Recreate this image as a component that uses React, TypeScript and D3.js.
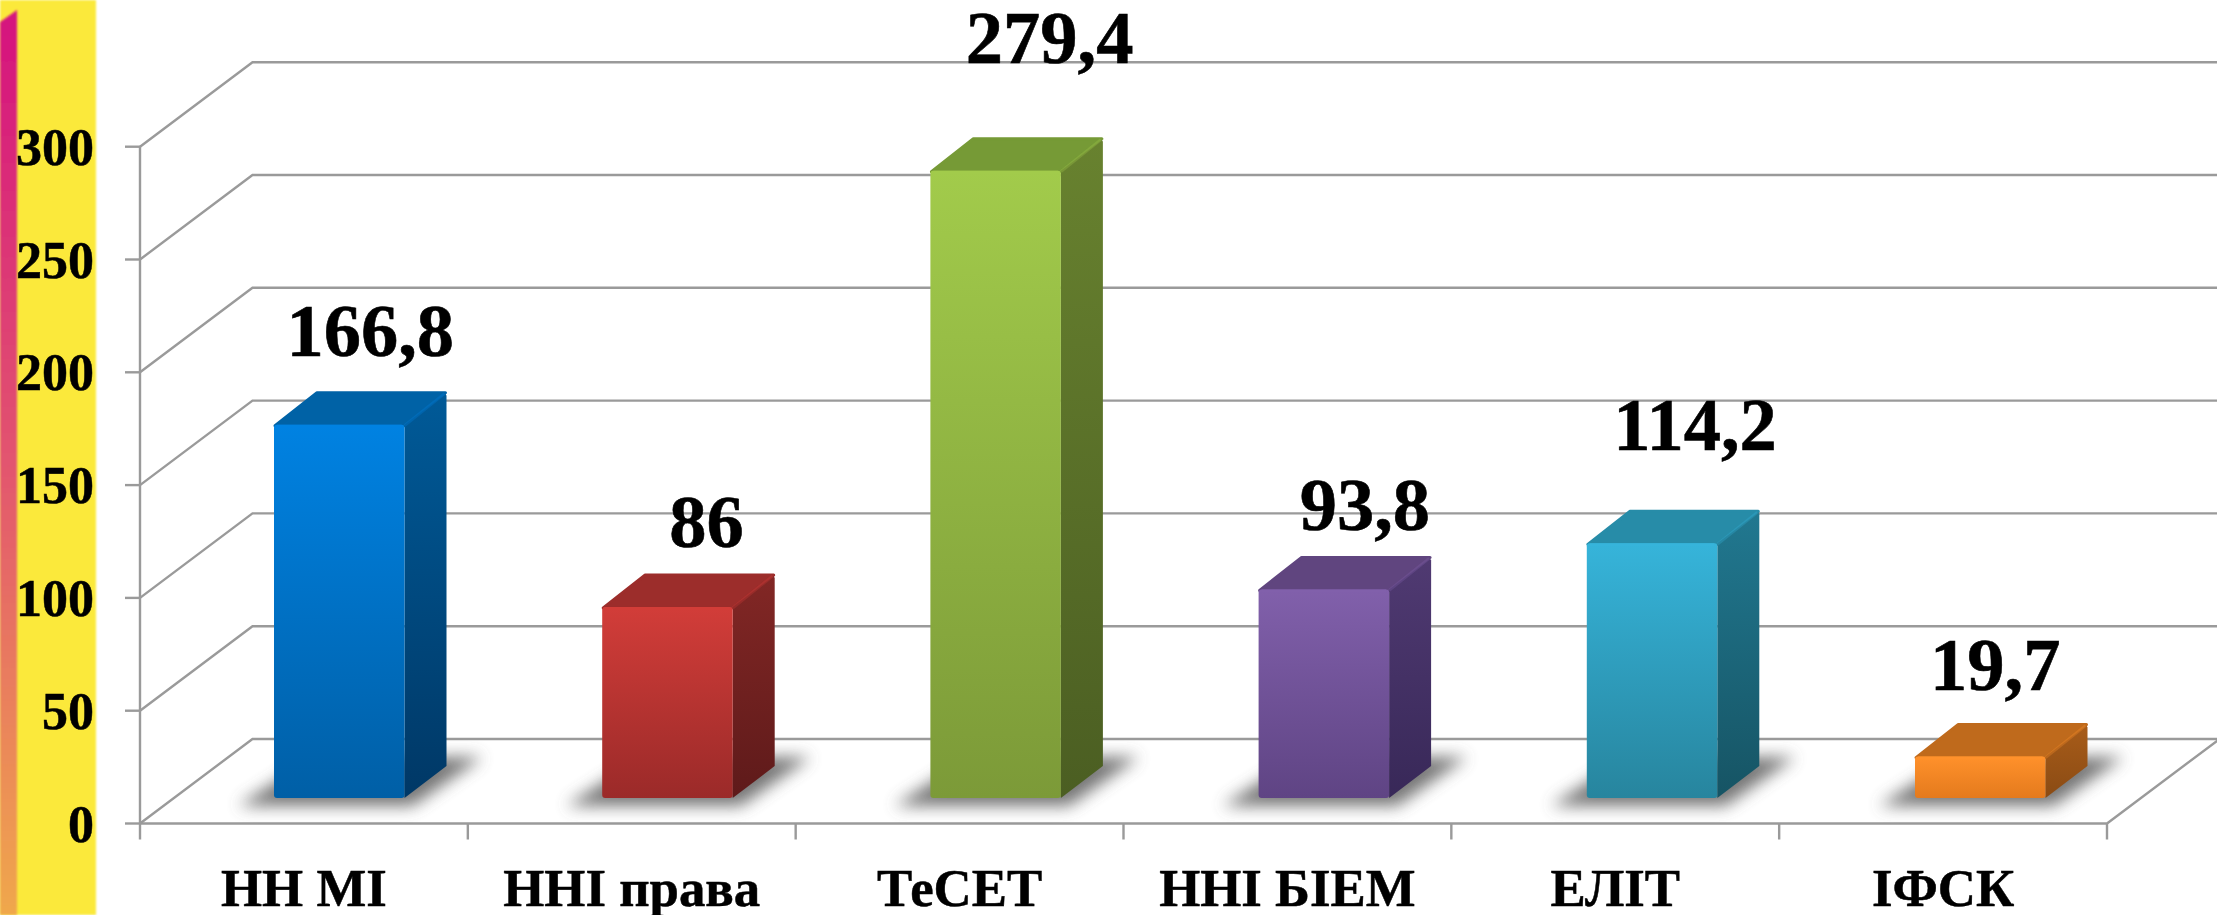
import React from "react";
import * as d3 from "d3";

const categories = ["НН МІ", "ННІ права", "ТеСЕТ", "ННІ БІЕМ", "ЕЛІТ", "ІФСК"];
const values = [166.8, 86, 279.4, 93.8, 114.2, 19.7];
const valueLabels = ["166,8", "86", "279,4", "93,8", "114,2", "19,7"];
const yTicks = [0, 50, 100, 150, 200, 250, 300];

const frontTop = ["#0082e2", "#d23d39", "#a2cb4b", "#8160ab", "#36b4da", "#ff912b"];
const frontBottom = ["#005fa6", "#9b2a29", "#7c9a38", "#5f4484", "#27859e", "#e47a1d"];
const topFace = ["#0062a6", "#9c2d2b", "#769a36", "#60457f", "#278ca8", "#bf6a1c"];
const sideTop = ["#005a98", "#822725", "#68822f", "#503a72", "#217890", "#a85c19"];
const sideBottom = ["#003866", "#5e1a1a", "#4b5e22", "#382858", "#165464", "#8a4b14"];
const labelDx = [31, 39, 54, 41, 43, 15];
const labelDy = [-69, -60, -108, -59, -93, -67];

const W = 2217, H = 915;
const FONT = "'Liberation Serif', 'Times New Roman', serif";
const plotL = 140, plotR = 2107, y0 = 823.5, y300 = 146.7;
const depthX = 112.5, depthY = 84.5;
const barW = 130.5, barBase = 25.5, barInset = 3, barDX = 42, barDY = 32, topDY = 33;
const GRID = "#9a9a9a";

const x = d3.scaleBand<string>().domain(categories).range([plotL, plotR]);
const barLeft = d3.scalePoint<string>().domain(categories).range([274, 1915]);
const y = d3.scaleLinear().domain([0, 300]).range([y0, y300]);
const line = d3.line();
const poly = (p: [number, number][]) => line(p) + "Z";

export default function App() {
  const stripPath = poly([[0, 22], [17, 10], [17, H], [0, H]]);
  return (
    <svg width={W} height={H} style={{ position: "absolute", left: 0, top: 0, display: "block", background: "#fff" }}>
      <defs>
        <linearGradient id="strip" x1="0" y1="0" x2="0" y2="1">
          <stop offset="0" stopColor="#d5127f" />
          <stop offset="0.5" stopColor="#e2556f" />
          <stop offset="1" stopColor="#f0a84c" />
        </linearGradient>
        <filter id="sh" x="-30%" y="-60%" width="160%" height="220%">
          <feGaussianBlur stdDeviation="8" />
        </filter>
        <filter id="soft" x="-20%" y="-20%" width="140%" height="140%">
          <feGaussianBlur stdDeviation="1" />
        </filter>
        {categories.map((_, i) => (
          <React.Fragment key={i}>
            <linearGradient id={`f${i}`} x1="0" y1="0" x2="0" y2="1">
              <stop offset="0" stopColor={frontTop[i]} />
              <stop offset="1" stopColor={frontBottom[i]} />
            </linearGradient>
            <linearGradient id={`s${i}`} x1="0" y1="0" x2="0" y2="1">
              <stop offset="0" stopColor={sideTop[i]} />
              <stop offset="1" stopColor={sideBottom[i]} />
            </linearGradient>
          </React.Fragment>
        ))}
      </defs>

      <rect x={0} y={0} width={96} height={H} fill="#fbe93a" filter="url(#soft)" />
      <path d={stripPath} fill="url(#strip)" filter="url(#soft)" />

      {/* walls and floor */}
      <g fill="none" stroke={GRID} strokeWidth={2.4}>
        {yTicks.map((t) => (
          <path
            key={t}
            d={line([
              [plotL, y(t)],
              [plotL + depthX, y(t) - depthY],
              [W + 2, y(t) - depthY],
            ]) as string}
          />
        ))}
        <path d={line([[plotL, y(0)], [plotR, y(0)], [plotR + depthX, y(0) - depthY]]) as string} />
        <path d={line([[plotL, y(300)], [plotL, y(0)]]) as string} />
        {yTicks.map((t) => (
          <path key={t} d={line([[plotL - 15, y(t)], [plotL, y(t)]]) as string} />
        ))}
        {d3.range(categories.length + 1).map((i) => {
          const px = plotL + i * x.step();
          return <path key={i} d={line([[px, y(0)], [px, y(0) + 16]]) as string} />;
        })}
      </g>

      {/* y axis labels */}
      <g fontFamily={FONT} fontWeight="bold" fontSize={52} fill="#000" stroke="#000" strokeWidth={0.5} textAnchor="end">
        {yTicks.map((t) => (
          <text key={t} x={94} y={y(t) + 18}>{t}</text>
        ))}
      </g>

      {/* bars */}
      {categories.map((c, i) => {
        const l = barLeft(c) as number;
        const r = l + barW;
        const b = y(0) - barBase;
        const t = b - (y(0) - y(values[i])) + barInset;
        const shadow = poly([
          [l - 36, b + 8],
          [r + 8, b + 8],
          [r + barDX + 36, b - barDY - 9],
          [l + 40, b - barDY - 9],
        ]);
        return (
          <g key={c}>
            <path d={shadow} fill="#555" opacity={0.8} filter="url(#sh)" />
            <path
              d={poly([[l + 1, t + 1], [l + barDX + 1, t - topDY + 1], [r + barDX - 1, t - topDY + 1], [r, t + 1]])}
              fill={topFace[i]} stroke={topFace[i]} strokeWidth={3} strokeLinejoin="round"
            />
            <path
              d={poly([[r, t], [r + barDX - 1, t - topDY + 2], [r + barDX, t - topDY + 4], [r + barDX, b - barDY], [r, b]])}
              fill={`url(#s${i})`}
            />
            <path
              d={line([[r, t + 1], [r + barDX - 2, t - topDY + 2]]) as string}
              stroke={frontTop[i]} strokeWidth={3} opacity={0.3} fill="none"
            />
            <rect x={l} y={t} width={barW} height={b - t} rx={3} fill={`url(#f${i})`} />
            <path
              d={line([[l + 3, t + 1.5], [r - 3, t + 1.5]]) as string}
              stroke={frontTop[i]} strokeWidth={3} opacity={0.9} fill="none"
            />
            <text
              x={(l + r) / 2 + labelDx[i]}
              y={t + labelDy[i]}
              fontFamily={FONT} fontWeight="bold" fontSize={74.5} fill="#000" stroke="#000" strokeWidth={0.6} textAnchor="middle"
            >
              {valueLabels[i]}
            </text>
          </g>
        );
      })}

      {/* category labels */}
      <g fontFamily={FONT} fontWeight="bold" fontSize={52.8} fill="#000" stroke="#000" strokeWidth={0.5} textAnchor="middle">
        {categories.map((c) => (
          <text key={c} x={(x(c) as number) + x.bandwidth() / 2} y={905.5}>{c}</text>
        ))}
      </g>
    </svg>
  );
}
